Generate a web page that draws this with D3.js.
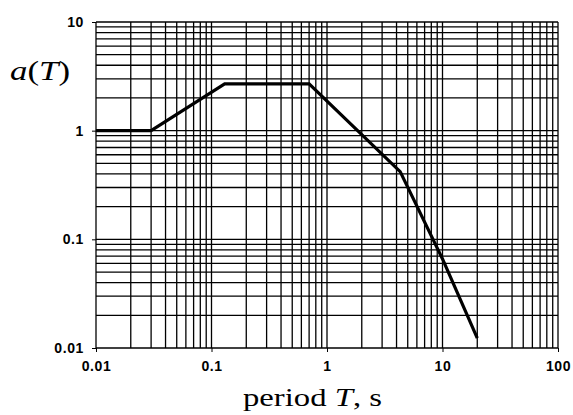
<!DOCTYPE html>
<html>
<head>
<meta charset="utf-8">
<script src="https://cdn.jsdelivr.net/npm/d3@7"></script>
<style>
  body { margin: 0; background: #fff; }
  svg { display: block; }
</style>
</head>
<body>
<script>
const width = 573;
const height = 415;

// spectrum
const periods = [0.01, 0.03, 0.13, 0.7, 4.3, 10, 20];
const accel = [1, 1, 2.7, 2.7, 0.42, 0.066, 0.0123];

const xTicks = [0.01, 0.1, 1, 10, 100];
const xTickLabels = ["0.01", "0.1", "1", "10", "100"];
const yTicks = [0.01, 0.1, 1, 10];
const yTickLabels = ["0.01", "0.1", "1", "10"];

const plotLeft = 96, plotRight = 558, plotTop = 22, plotBottom = 348;

const svg = d3.select("body").append("svg")
  .attr("width", width)
  .attr("height", height);

const x = d3.scaleLog().domain([0.01, 100]).range([plotLeft, plotRight]);
const y = d3.scaleLog().domain([0.01, 10]).range([plotBottom, plotTop]);

// log grid, 1..9 per decade
const xGrid = [];
for (let e = -2; e < 2; e++) for (let m = 1; m < 10; m++) xGrid.push(m * Math.pow(10, e));
xGrid.push(100);
const yGrid = [];
for (let e = -2; e < 1; e++) for (let m = 1; m < 10; m++) yGrid.push(m * Math.pow(10, e));
yGrid.push(10);

svg.append("g").selectAll("line")
  .data(xGrid)
  .enter().append("line")
  .attr("x1", d => x(d)).attr("x2", d => x(d))
  .attr("y1", plotTop).attr("y2", plotBottom)
  .attr("stroke", "#000")
  .attr("stroke-width", 1.3);

svg.append("g").selectAll("line")
  .data(yGrid)
  .enter().append("line")
  .attr("x1", plotLeft).attr("x2", plotRight)
  .attr("y1", d => y(d)).attr("y2", d => y(d))
  .attr("stroke", "#000")
  .attr("stroke-width", 1.3);

// axes with short outward ticks
const xAxis = svg.append("g")
  .attr("transform", `translate(0,${plotBottom})`)
  .call(d3.axisBottom(x).tickValues(xTicks).tickSize(4).tickPadding(9)
    .tickFormat((d, i) => xTickLabels[i]));

const yAxis = svg.append("g")
  .attr("transform", `translate(${plotLeft},0)`)
  .call(d3.axisLeft(y).tickValues(yTicks).tickSize(4).tickPadding(8)
    .tickFormat((d, i) => yTickLabels[i]));

[xAxis, yAxis].forEach(g => {
  g.select(".domain").remove();
  g.selectAll("line").attr("stroke", "#000");
  g.selectAll("text")
    .attr("fill", "#000")
    .style("font-family", "'Liberation Sans', Arial, sans-serif")
    .style("font-weight", "bold")
    .style("font-size", "14px")
    .style("letter-spacing", "0.6px");
});

// the curve
const line = d3.line()
  .x(d => x(d[0]))
  .y(d => y(d[1]));

svg.append("path")
  .datum(periods.map((p, i) => [p, accel[i]]))
  .attr("d", line)
  .attr("fill", "none")
  .attr("stroke", "#000")
  .attr("stroke-width", 3.2)
  .attr("stroke-linejoin", "miter");

// axis titles
const serif = "'Liberation Serif', 'Times New Roman', serif";

const yt = svg.append("text")
  .attr("x", 10)
  .attr("y", 80)
  .attr("textLength", 60)
  .attr("lengthAdjust", "spacingAndGlyphs")
  .style("font-family", serif)
  .style("font-size", "28px");
yt.append("tspan").style("font-style", "italic").text("a");
yt.append("tspan").text("(");
yt.append("tspan").style("font-style", "italic").text("T");
yt.append("tspan").text(")");

const xt = svg.append("text")
  .attr("x", 243)
  .attr("y", 406)
  .attr("textLength", 139)
  .attr("lengthAdjust", "spacingAndGlyphs")
  .style("font-family", serif)
  .style("font-size", "25px");
xt.append("tspan").text("period ");
xt.append("tspan").style("font-style", "italic").text("T");
xt.append("tspan").text(", s");
</script>
</body>
</html>
